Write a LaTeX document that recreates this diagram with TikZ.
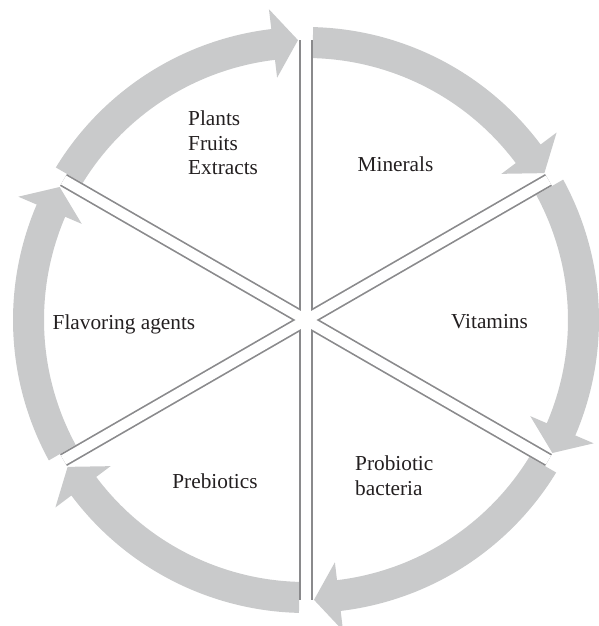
\documentclass[tikz,border=0pt]{standalone}
\usepackage{fontspec}
\setmainfont{Liberation Serif}
\definecolor{arrowgray}{HTML}{C9CACB}
\definecolor{spokegray}{HTML}{8A8A8C}
\definecolor{txt}{HTML}{231F20}
\begin{document}
\begin{tikzpicture}[x=1pt,y=1pt,
  arrowband/.style={fill=arrowgray},
  spokeout/.style={draw=spokegray,line width=13.7pt,line cap=butt},
  spokein/.style={draw=white,line width=10.3pt,line cap=butt},
  lbl/.style={font=\fontsize{21.3}{24.5}\selectfont,text=txt,inner sep=0pt}]
\useasboundingbox (-306,-306) rectangle (293,320);
\clip (-306,-306) rectangle (293,320);
% circular arrows
\foreach \k in {0,...,5}{
  \begin{scope}[rotate=-60*\k]
    \fill[arrowband] (88.63:293) arc[start angle=88.63,end angle=36.8,radius=293]
      -- (36.8:313) -- (31.64:280) -- (36.8:244) -- (36.8:262)
      arc[start angle=36.8,end angle=88.47,radius=262] -- cycle;
  \end{scope}
}
% spokes
\coordinate (c) at (0,0);
\foreach \a in {90,30,-30,-90,-150,150}{
  \coordinate (e\a) at (\a:280);
}
\foreach \a/\b in {90/-90,30/-150,-30/150}{
  \draw[spokeout] (e\a) -- (e\b);
}
\foreach \a/\b in {90/-90,30/-150,-30/150}{
  \draw[spokein] (e\a) -- (e\b);
}
% labels
\node[lbl,anchor=base west,align=left] (plants) at (-118,145) {Plants\\Fruits\\Extracts};
\node[lbl,anchor=base] (minerals) at (89.5,148) {Minerals};
\node[lbl,anchor=base] (vitamins) at (183.5,-9) {Vitamins};
\node[lbl,anchor=base west,align=left] (probiotic) at (49,-175) {Probiotic\\bacteria};
\node[lbl,anchor=base] (prebiotics) at (-91,-168) {Prebiotics};
\node[lbl,anchor=base] (flavoring) at (-182,-10) {Flavoring agents};
\end{tikzpicture}
\end{document}
